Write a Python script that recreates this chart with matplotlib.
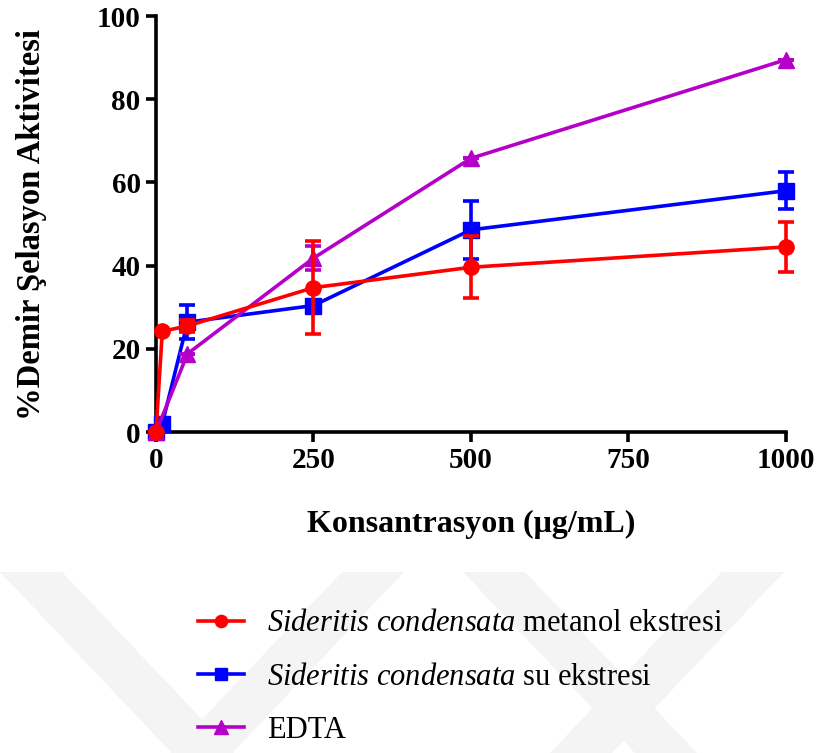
import matplotlib
matplotlib.use("Agg")
import matplotlib.pyplot as plt
from matplotlib.patches import Polygon

plt.rcParams['font.family'] = ['Liberation Serif', 'DejaVu Serif']
plt.rcParams['mathtext.fontset'] = 'custom'
plt.rcParams['mathtext.rm'] = 'Liberation Serif'
plt.rcParams['mathtext.it'] = 'Liberation Serif:italic'

# data
x_met = [0, 10, 50, 250, 500, 1000]
y_met = [0, 24.2, 25.5, 34.7, 39.6, 44.5]
e_met = [0, 0, 1.5, 11.2, 7.5, 6.0]

x_su = [0, 10, 50, 250, 500, 1000]
y_su = [0, 2.0, 26.4, 30.4, 48.6, 58.0]
e_su = [0, 0, 4.1, 1.0, 7.0, 4.5]

x_edta = [0, 50, 250, 500, 1000]
y_edta = [0, 18.8, 41.8, 65.8, 89.5]
e_edta = [0, 0, 2.8, 0, 0]

labels = [r"$\it{Sideritis\ condensata}$ metanol ekstresi",
          r"$\it{Sideritis\ condensata}$ su ekstresi",
          "EDTA"]
x_ticks = [0, 250, 500, 750, 1000]
y_ticks = [0, 20, 40, 60, 80, 100]

W, H = 820, 753
fig = plt.figure(figsize=(W / 100, H / 100), dpi=100)

# faint background watermark chevrons (pixel coords of the picture)
def band(x_top, y_top, y_bot, width, slope):
    dx = (y_bot - y_top) * slope
    pts = [(x_top, y_top), (x_top + width, y_top),
           (x_top + width + dx, y_bot), (x_top + dx, y_bot)]
    return [(px / W, 1 - py / H) for px, py in pts]

for xt, sl in [(0, 0.95), (342, -0.95), (463, 0.95), (722, -0.95)]:
    fig.patches.append(Polygon(band(xt, 572, 760, 62, sl), closed=True,
                               transform=fig.transFigure, facecolor='#f4f4f4',
                               edgecolor='none', zorder=0))

ax = fig.add_axes([156 / W, 1 - 432 / H, 630 / W, 416 / H])
ax.patch.set_alpha(0)

common = dict(linewidth=2.6, capsize=6, capthick=2.6, elinewidth=2.6, clip_on=False)
h_su = ax.errorbar(x_su, y_su, yerr=e_su, color='#0000ff', marker='s', markersize=11,
                   zorder=3, **common)
h_ed = ax.errorbar(x_edta, y_edta, yerr=e_edta, color='#b400c8', marker='^', markersize=12,
                   zorder=4, **common)
h_me = ax.errorbar(x_met, y_met, yerr=e_met, color='#ff0000', marker='o', markersize=11,
                   zorder=5, **common)
for h in (h_su, h_ed, h_me):
    for c in h[1] + h[2]:
        c.set_clip_on(False)

ax.set_xlim(0, 1000)
ax.set_ylim(0, 100)
ax.set_xticks(x_ticks)
ax.set_yticks(y_ticks)
for s in ['top', 'right']:
    ax.spines[s].set_visible(False)
for s in ['left', 'bottom']:
    ax.spines[s].set_linewidth(2.6)
ax.tick_params(direction='out', length=7, width=2.6, labelsize=21, pad=4)
for t in ax.get_xticklabels() + ax.get_yticklabels():
    t.set_fontweight('bold')

ax.set_xlabel("Konsantrasyon (μg/mL)", fontsize=23, fontweight='bold', labelpad=26)
ax.set_ylabel("%Demir Şelasyon Aktivitesi", fontsize=23.5, fontweight='bold', labelpad=36)

fig.legend([h_me[0], h_su[0], h_ed[0]], labels, loc='upper left',
           bbox_to_anchor=(186 / W, 1 - 597 / H), frameon=False, fontsize=22,
           handlelength=1.5, handletextpad=0.75, labelspacing=0.8, markerscale=0.8,
           borderaxespad=0)

fig.savefig("out.png", dpi=100)
